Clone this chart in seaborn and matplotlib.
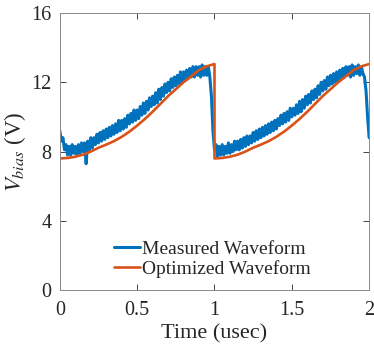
import numpy as np
import pandas as pd
import matplotlib
import matplotlib.pyplot as plt
import seaborn as sns

matplotlib.use('Agg')

# Measured bias voltage, sampled every 0.01 usec from 0 to 2 usec
measured_v = [
    9.2, 8.6, 8.8, 8.1, 8.4, 7.8, 8.3, 7.8, 8.4, 7.9,
    8.3, 7.8, 8.4, 7.9, 8.5, 8.0, 8.5, 7.3, 8.6, 8.1,
    8.8, 8.2, 8.8, 8.4, 9.0, 8.5, 9.1, 8.6, 9.2, 8.7,
    9.3, 8.8, 9.4, 8.9, 9.5, 9.0, 9.6, 9.1, 9.8, 9.2,
    9.8, 9.3, 9.9, 9.4, 10.1, 9.6, 10.2, 9.7, 10.4, 9.8,
    10.4, 9.9, 10.6, 10.1, 10.8, 10.2, 10.9, 10.4, 11.1, 10.6,
    11.2, 10.7, 11.4, 10.8, 11.6, 11.0, 11.7, 11.2, 11.9, 11.4,
    12.0, 11.5, 12.2, 11.7, 12.3, 11.8, 12.4, 11.9, 12.6, 12.0,
    12.6, 12.1, 12.7, 12.2, 12.8, 12.3, 12.9, 12.3, 12.9, 12.4,
    12.9, 12.3, 13.0, 12.4, 12.9, 12.4, 12.9, 12.3, 11.2, 9.2,
    8.1, 8.4, 7.7, 8.3, 7.8, 8.4, 7.8, 8.3, 7.9, 8.5,
    7.9, 8.4, 8.0, 8.6, 8.1, 8.6, 8.1, 8.7, 8.2, 8.8,
    8.3, 8.9, 8.4, 8.9, 8.5, 9.1, 8.6, 9.2, 8.7, 9.3,
    8.8, 9.4, 8.9, 9.5, 9.0, 9.6, 9.1, 9.7, 9.2, 9.8,
    9.3, 9.9, 9.5, 10.1, 9.6, 10.2, 9.7, 10.3, 9.8, 10.5,
    10.0, 10.5, 10.1, 10.7, 10.2, 10.9, 10.3, 11.0, 10.5, 11.2,
    10.7, 11.3, 10.8, 11.5, 11.0, 11.6, 11.1, 11.8, 11.3, 12.0,
    11.5, 12.1, 11.6, 12.3, 11.8, 12.4, 11.9, 12.5, 12.0, 12.6,
    12.1, 12.7, 12.2, 12.8, 12.3, 12.9, 12.4, 12.9, 12.3, 13.0,
    12.4, 12.9, 12.5, 13.0, 12.4, 12.9, 12.5, 12.3, 11.5, 10.0,
    8.8,
]
measured_t = [i / 100 for i in range(len(measured_v))]

# Optimized waveform, one period every 0.05 usec, then the reset at t = 1
period_t = [0.00, 0.05, 0.10, 0.15, 0.20, 0.25, 0.30, 0.35, 0.40, 0.45, 0.50,
            0.55, 0.60, 0.65, 0.70, 0.75, 0.80, 0.85, 0.90, 0.95, 1.00]
period_v = [7.60, 7.63, 7.70, 7.82, 8.00, 8.22, 8.40, 8.60, 8.85, 9.15, 9.50,
            9.88, 10.30, 10.75, 11.20, 11.60, 12.00, 12.35, 12.70, 12.92, 13.05]
optimized_t = period_t + [1.0 + t for t in period_t]
optimized_v = period_v + period_v

x_ticks = [0, 0.5, 1, 1.5, 2]
x_labels = ['0', '0.5', '1', '1.5', '2']
y_ticks = [0, 4, 8, 12, 16]

df_meas = pd.DataFrame({'t': measured_t, 'v': measured_v})
df_opt = pd.DataFrame({'t': optimized_t, 'v': optimized_v})

sns.set_style('ticks')
plt.rcParams['font.family'] = ['Liberation Serif', 'DejaVu Serif']
plt.rcParams['mathtext.fontset'] = 'stix'

fig = plt.figure(figsize=(3.74, 3.5), dpi=100)
ax = fig.add_axes([0.160, 0.171, 0.827, 0.792])

sns.lineplot(data=df_meas, x='t', y='v', ax=ax, color='#0072BD', linewidth=2.2,
             estimator=None, sort=False, label='Measured Waveform')
sns.lineplot(data=df_opt, x='t', y='v', ax=ax, color='#D95319', linewidth=1.9,
             estimator=None, sort=False, label='Optimized Waveform')

ax.set_xlim(0, 2)
ax.set_ylim(0, 16)
ax.set_xticks(x_ticks)
ax.set_xticklabels(x_labels)
ax.set_yticks(y_ticks)
ax.set_yticklabels([str(v) for v in y_ticks])
ax.tick_params(direction='in', length=4, width=0.6, colors='#262626',
               labelsize=14.5, top=True, right=True)
ax.tick_params(axis='x', pad=8)
ax.tick_params(axis='y', pad=6)
for side in ax.spines.values():
    side.set_visible(True)
    side.set_color('#8c8c8c')
    side.set_linewidth(0.7)

ax.set_xlabel('Time (usec)', fontsize=16, color='#262626', labelpad=3)
ax.set_ylabel(r'$V_{bias}$ (V)', fontsize=16.5, color='#262626', labelpad=2)

ax.legend(loc='lower left', bbox_to_anchor=(0.15, 0.015), frameon=False,
          fontsize=14, handlelength=1.35, handletextpad=0.1,
          labelspacing=0.12, borderaxespad=0)

plt.savefig('out.png', dpi=100)
